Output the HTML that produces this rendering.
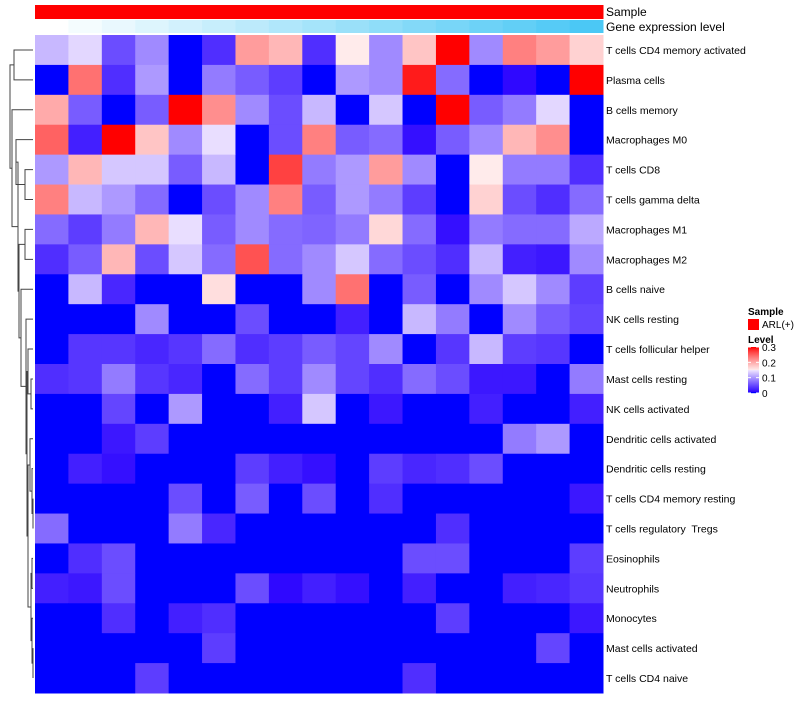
<!DOCTYPE html>
<html><head><meta charset="utf-8"><style>
body{margin:0;background:#fff;font-family:"Liberation Sans",sans-serif}
svg text{font-family:"Liberation Sans",sans-serif;white-space:pre}
</style></head><body>
<svg id="c" width="800" height="700"></svg>
<script>
const rows=["T cells CD4 memory activated","Plasma cells","B cells memory","Macrophages M0","T cells CD8","T cells gamma delta","Macrophages M1","Macrophages M2","B cells naive","NK cells resting","T cells follicular helper","Mast cells resting","NK cells activated","Dendritic cells activated","Dendritic cells resting","T cells CD4 memory resting","T cells regulatory  Tregs","Eosinophils","Neutrophils","Monocytes","Mast cells activated","T cells CD4 naive"];
const values=[
[0.12,0.14,0.05,0.09,0,0.03,0.21,0.19,0.03,0.15,0.09,0.18,0.3,0.09,0.23,0.21,0.17],
[0,0.24,0.03,0.1,0,0.08,0.06,0.04,0,0.1,0.09,0.29,0.07,0,0.005,0,0.3],
[0.2,0.06,0,0.06,0.3,0.22,0.09,0.05,0.12,0,0.13,0,0.3,0.06,0.08,0.14,0],
[0.25,0.02,0.3,0.18,0.09,0.145,0,0.05,0.23,0.06,0.07,0.01,0.06,0.09,0.19,0.22,0],
[0.1,0.19,0.13,0.13,0.06,0.12,0,0.27,0.08,0.1,0.21,0.09,0,0.15,0.08,0.08,0.03],
[0.23,0.12,0.1,0.07,0,0.05,0.09,0.23,0.06,0.1,0.08,0.04,0,0.17,0.05,0.03,0.07],
[0.07,0.04,0.08,0.19,0.145,0.06,0.09,0.07,0.065,0.08,0.165,0.07,0.01,0.08,0.07,0.07,0.11],
[0.03,0.06,0.19,0.05,0.13,0.07,0.26,0.07,0.09,0.13,0.07,0.05,0.03,0.12,0.02,0.015,0.09],
[0,0.12,0.025,0,0,0.16,0,0,0.09,0.24,0,0.06,0,0.09,0.13,0.09,0.04],
[0,0,0,0.09,0,0,0.05,0,0,0.02,0,0.12,0.08,0,0.09,0.06,0.045],
[0,0.035,0.035,0.025,0.035,0.07,0.03,0.04,0.06,0.045,0.09,0,0.035,0.12,0.04,0.035,0],
[0.03,0.035,0.08,0.035,0.025,0,0.07,0.04,0.09,0.045,0.03,0.07,0.05,0.015,0.015,0,0.08],
[0,0,0.045,0,0.1,0,0,0.02,0.13,0,0.015,0,0,0.02,0,0,0.02],
[0,0,0.015,0.04,0,0,0,0,0,0,0,0,0,0,0.08,0.1,0],
[0,0.02,0.01,0,0,0,0.04,0.02,0.01,0,0.04,0.025,0.03,0.05,0,0,0],
[0,0,0,0,0.05,0,0.06,0,0.05,0,0.03,0,0,0,0,0,0.015],
[0.07,0,0,0,0.08,0.025,0,0,0,0,0,0,0.03,0,0,0,0],
[0,0.03,0.05,0,0,0,0,0,0,0,0,0.05,0.05,0,0,0,0.04],
[0.02,0.015,0.05,0,0,0,0.05,0.005,0.02,0.01,0,0.02,0,0,0.02,0.025,0.035],
[0,0,0.03,0,0.02,0.03,0,0,0,0,0,0,0.04,0,0,0,0.015],
[0,0,0,0,0,0.04,0,0,0,0,0,0,0,0,0,0.045,0],
[0,0,0,0.04,0,0,0,0,0,0,0,0.03,0,0,0,0,0]];
const legendTicks=[0,0.1,0.2,0.3];
const NS="http://www.w3.org/2000/svg",svg=document.getElementById('c');
function el(t,a,p){const e=document.createElementNS(NS,t);for(const k in a)e.setAttribute(k,a[k]);(p||svg).appendChild(e);return e;}
const X0=35,X1=603,Y0=35,Y1=693,nc=values[0].length,nr=rows.length,cw=(X1-X0)/nc,rh=(Y1-Y0)/nr;
function col(v){let t=Math.max(0,Math.min(1,v/0.3));let r,g,b;
 if(t<0.5){const s=t/0.5;b=255;g=Math.round(230*s);r=Math.round(40+200*s);if(t===0){r=0;g=0;}}
 else{const s=(t-0.5)/0.5;r=255;g=Math.round(235*Math.pow(1-s,0.8));b=g;}
 return `rgb(${r},${g},${b})`;}
const sx=i=>X0+i*cw, sy=j=>Y0+j*rh;
for(let i=0;i<nc;i++){
 const s=el('rect',{x:sx(i),y:5,width:cw+0.5,height:14,fill:'#ff0000'});
 
 
 const f=i/(nc-1);
 const g=el('rect',{x:sx(i),y:20,width:cw+0.5,height:13,fill:`rgb(${Math.round(255-180*f)},${Math.round(255-55*f)},${Math.round(255-10*f)})`});
 
 
}
let t=el('text',{x:606,y:16,'font-size':12});t.textContent='Sample';
t=el('text',{x:606,y:31,'font-size':12});t.textContent='Gene expression level';
for(let j=0;j<nr;j++){for(let i=0;i<nc;i++){
 const r=el('rect',{x:sx(i),y:sy(j),width:cw+0.5,height:rh+0.5,fill:col(values[j][i])});
 
 }
 const l=el('text',{x:606,y:sy(j)+rh/2+4,'font-size':10.5});l.textContent=rows[j];
 
 }
const tree=[[[0,1,14],[2,[[3,[[4,5,25],null],16],[[6,7,25],[8,[9,[[10,[11,12,31],28],[[13,[14,[15,16,33],32],30],[[17,18,32],[19,[20,21,33],32],31],28],27],26],21],19],18],12],10],4];
function cy(n){return sy(n)+rh/2;}
function draw(n){if(typeof n==='number')return{y:cy(n),x:X0-2};
 const [a,b,h]=n;const A=draw(a),B=draw(b);
 el('path',{d:`M${A.x},${A.y}H${h}V${B.y}H${B.x}`,stroke:'#444',fill:'none','stroke-width':1});
 return{y:(A.y+B.y)/2,x:h};}
function norm(n){if(typeof n==='number')return n;const [a,b,h]=n;if(b===null)return norm(a);return[norm(a),norm(b),h];}
const root=draw(norm(tree));
el('path',{d:`M${root.x},${root.y}H1`,stroke:'#444',fill:'none'});
t=el('text',{x:748,y:315,'font-size':10,'font-weight':'bold'});t.textContent='Sample';
const lr=el('rect',{x:748,y:319,width:11,height:11,fill:'#ff0000'});
t=el('text',{x:762,y:328,'font-size':10});t.textContent='ARL(+)';
t=el('text',{x:748,y:343,'font-size':10,'font-weight':'bold'});t.textContent='Level';
const LT=347,LB=393;
for(let k=0;k<46;k++){const v=0.3*(1-k/45);el('rect',{x:748,y:LT+k,width:11,height:1.2,fill:col(v)});}
legendTicks.forEach(v=>{const y=LB-(v/0.3)*(LB-LT);
 const tl=el('text',{x:762,y:y+4,'font-size':10});tl.textContent=String(v);
 
 
 el('line',{x1:748,x2:751,y1:y,y2:y,stroke:'#fff'});el('line',{x1:756,x2:759,y1:y,y2:y,stroke:'#fff'});});
</script>
</body></html>
